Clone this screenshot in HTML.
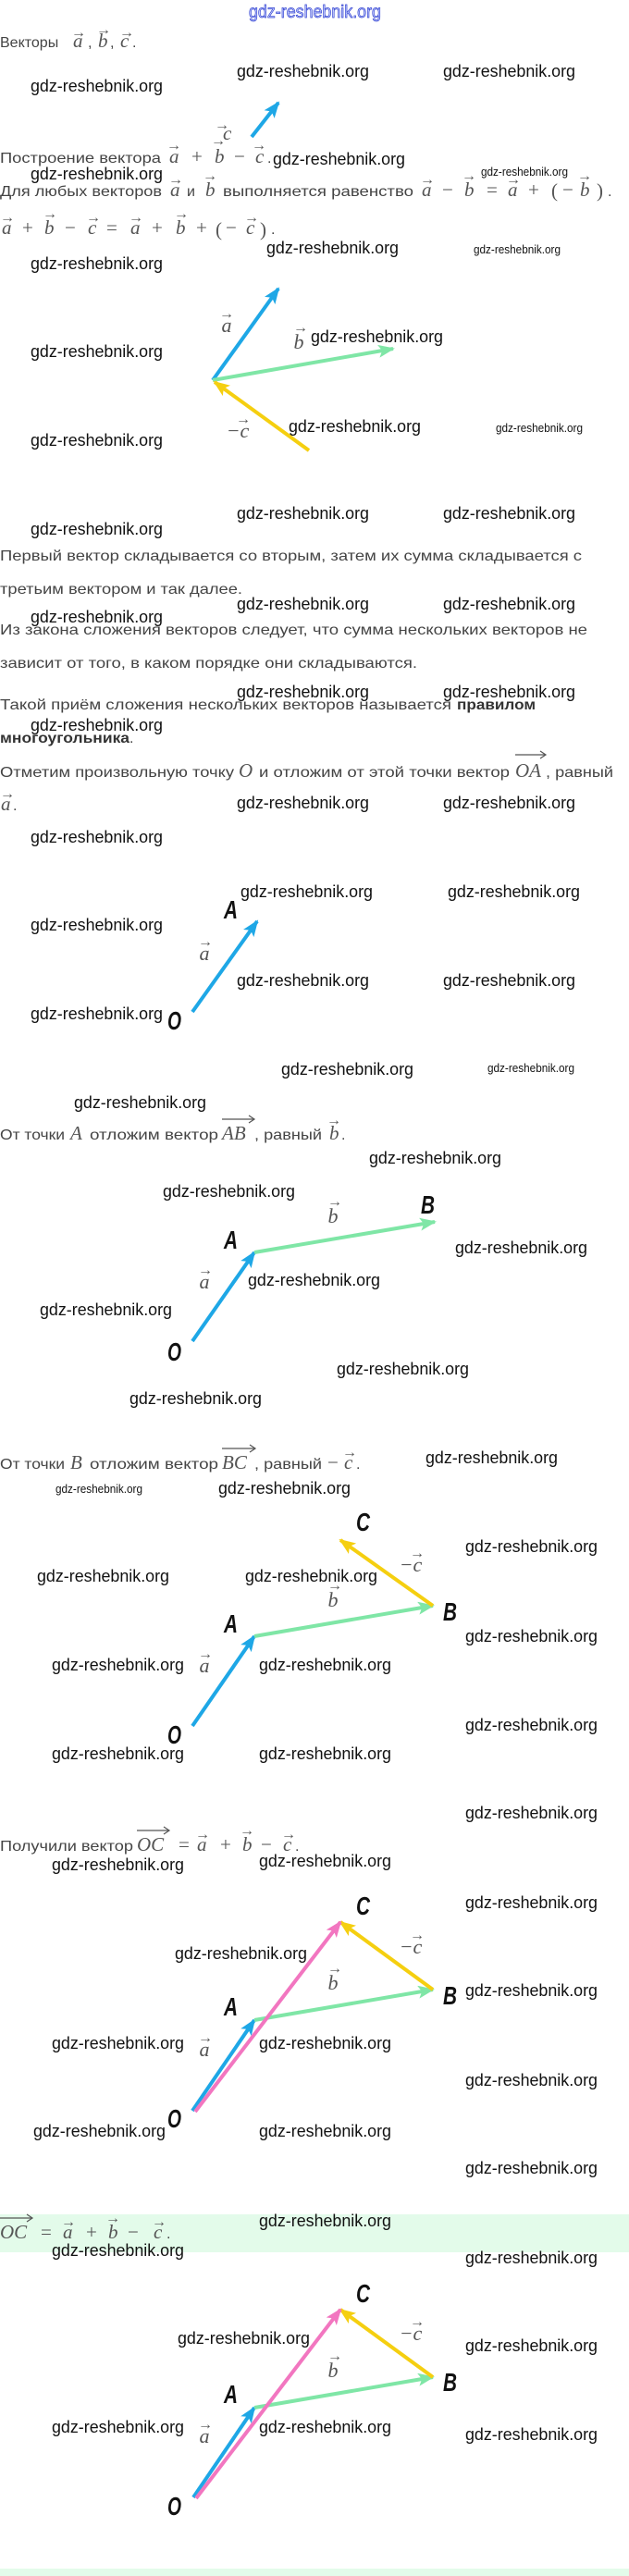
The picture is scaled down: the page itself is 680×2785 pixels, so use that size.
<!DOCTYPE html>
<html><head><meta charset="utf-8"><style>
html,body{margin:0;padding:0;background:#fff}
svg{display:block}
.w{font-family:"Liberation Sans",sans-serif;font-size:18px;fill:#111}
.ws{font-family:"Liberation Sans",sans-serif;font-size:13px;fill:#111}
.t{font-family:"Liberation Sans",sans-serif;font-size:16px;fill:#444}
.tb{font-family:"Liberation Sans",sans-serif;font-size:16px;fill:#333;font-weight:bold}
.m{font-family:"Liberation Serif",serif;font-style:italic;font-size:21px;fill:#555}
.mo{font-family:"Liberation Serif",serif;font-size:21px;fill:#555}
.ar{font-family:"Liberation Serif",serif;font-size:16px;fill:#555}
.v{font-family:"Liberation Serif",serif;font-style:italic;font-size:22px;fill:#555}
.P{font-family:"Liberation Sans",sans-serif;font-style:italic;font-weight:bold;font-size:28px;fill:#111}
</style></head><body>
<svg width="680" height="2785" viewBox="0 0 680 2785" xmlns="http://www.w3.org/2000/svg">
<defs>
<marker id="hb" markerWidth="18" markerHeight="14" refX="16" refY="7" orient="auto" markerUnits="userSpaceOnUse"><path d="M0,0 L18,7 L0,14 L4,7 z" fill="#1ea7e6"/></marker>
<marker id="hg" markerWidth="18" markerHeight="14" refX="16" refY="7" orient="auto" markerUnits="userSpaceOnUse"><path d="M0,0 L18,7 L0,14 L4,7 z" fill="#7fe6a6"/></marker>
<marker id="hy" markerWidth="18" markerHeight="14" refX="16" refY="7" orient="auto" markerUnits="userSpaceOnUse"><path d="M0,0 L18,7 L0,14 L4,7 z" fill="#f5cf10"/></marker>
<marker id="hp" markerWidth="18" markerHeight="14" refX="16" refY="7" orient="auto" markerUnits="userSpaceOnUse"><path d="M0,0 L18,7 L0,14 L4,7 z" fill="#f276c0"/></marker>
</defs>

<!-- green bands -->
<rect x="0" y="2394" width="680" height="41" fill="#e3fbea"/>
<rect x="0" y="2777" width="680" height="8" fill="#e3fbea"/>

<!-- header -->
<text x="269" y="19" font-family="Liberation Sans,sans-serif" font-size="19" fill="#c9d2ff" stroke="#3040d0" stroke-width="0.7" textLength="143" lengthAdjust="spacingAndGlyphs">gdz-reshebnik.org</text>

<!-- text line 1 -->
<text class="t" x="0" y="51">Векторы</text>
<text class="m" x="79" y="51">a</text><text class="t" x="95" y="51">,</text>
<text class="m" x="106" y="51">b</text><text class="t" x="119" y="51">,</text>
<text class="m" x="130" y="51">c</text><text class="t" x="143" y="51">.</text>
<text class="ar" x="77" y="40">→</text><text class="ar" x="104" y="37">→</text><text class="ar" x="129" y="40">→</text>

<!-- small blue arrow -->
<line x1="272" y1="148" x2="301" y2="111" stroke="#1ea7e6" stroke-width="4" marker-end="url(#hb)"/>

<text class="t" x="0" y="176" textLength="174" lengthAdjust="spacingAndGlyphs">Построение вектора</text>
<text class="m" x="183" y="176">a</text><text class="mo" x="207" y="176">+</text>
<text class="m" x="232" y="176">b</text><text class="mo" x="253" y="176">−</text>
<text class="m" x="276" y="176">c</text><text class="t" x="289" y="176">.</text>
<text class="m" x="241" y="151">c</text>
<text class="ar" x="180" y="162">→</text><text class="ar" x="228" y="157">→</text><text class="ar" x="232" y="140">→</text><text class="ar" x="272" y="162">→</text>

<text class="t" x="0" y="212" textLength="175" lengthAdjust="spacingAndGlyphs">Для любых векторов</text>
<text class="m" x="184" y="212">a</text><text class="t" x="202" y="212">и</text>
<text class="m" x="222" y="212">b</text>
<text class="t" x="241" y="212" textLength="206" lengthAdjust="spacingAndGlyphs">выполняется равенство</text>
<text class="m" x="456" y="212">a</text><text class="mo" x="478" y="212">−</text>
<text class="m" x="502" y="212">b</text><text class="mo" x="526" y="212">=</text>
<text class="m" x="549" y="212">a</text><text class="mo" x="571" y="212">+</text>
<text class="mo" x="596" y="213" font-size="26">(</text><text class="mo" x="608" y="212">−</text>
<text class="m" x="627" y="212">b</text><text class="mo" x="645" y="213" font-size="26">)</text><text class="t" x="657" y="212">.</text>
<text class="ar" x="182" y="199">→</text><text class="ar" x="219" y="195">→</text><text class="ar" x="454" y="199">→</text><text class="ar" x="499" y="195">→</text><text class="ar" x="547" y="199">→</text><text class="ar" x="624" y="195">→</text>

<text class="m" x="2" y="253">a</text><text class="mo" x="24" y="253">+</text>
<text class="m" x="48" y="253">b</text><text class="mo" x="70" y="253">−</text>
<text class="m" x="95" y="253">c</text><text class="mo" x="115" y="253">=</text>
<text class="m" x="141" y="253">a</text><text class="mo" x="164" y="253">+</text>
<text class="m" x="190" y="253">b</text><text class="mo" x="212" y="253">+</text>
<text class="mo" x="233" y="255" font-size="28">(</text><text class="mo" x="244" y="253">−</text>
<text class="m" x="266" y="253">c</text><text class="mo" x="281" y="255" font-size="28">)</text><text class="t" x="293" y="253">.</text>
<text class="ar" x="0" y="240">→</text><text class="ar" x="46" y="236">→</text><text class="ar" x="93" y="240">→</text><text class="ar" x="139" y="240">→</text><text class="ar" x="188" y="236">→</text><text class="ar" x="264" y="240">→</text>

<!-- diagram 1 -->
<line x1="230" y1="411" x2="301" y2="312" stroke="#1ea7e6" stroke-width="4" marker-end="url(#hb)"/>
<line x1="230" y1="411" x2="425" y2="377" stroke="#7fe6a6" stroke-width="4" marker-end="url(#hg)"/>
<line x1="334" y1="487" x2="232" y2="413" stroke="#f5cf10" stroke-width="4" marker-end="url(#hy)"/>
<text class="v" x="245" y="359" text-anchor="middle">a</text><text class="ar" x="245" y="344" text-anchor="middle">→</text>
<text class="v" x="323" y="377" text-anchor="middle">b</text><text class="ar" x="325" y="359" text-anchor="middle">→</text>
<text class="v" x="257" y="473" text-anchor="middle">−c</text><text class="ar" x="263" y="458" text-anchor="middle">→</text>

<!-- paragraphs -->
<text class="t" x="0" y="606" textLength="629" lengthAdjust="spacingAndGlyphs">Первый вектор складывается со вторым, затем их сумма складывается с</text>
<text class="t" x="0" y="642" textLength="262" lengthAdjust="spacingAndGlyphs">третьим вектором и так далее.</text>
<text class="t" x="0" y="686" textLength="635" lengthAdjust="spacingAndGlyphs">Из закона сложения векторов следует, что сумма нескольких векторов не</text>
<text class="t" x="0" y="722" textLength="451" lengthAdjust="spacingAndGlyphs">зависит от того, в каком порядке они складываются.</text>
<text class="t" x="0" y="767" textLength="488" lengthAdjust="spacingAndGlyphs">Такой приём сложения нескольких векторов называется</text>
<text class="tb" x="494" y="767" textLength="85" lengthAdjust="spacingAndGlyphs">правилом</text>
<text class="tb" x="0" y="803" textLength="140" lengthAdjust="spacingAndGlyphs">многоугольника</text><text class="t" x="140" y="803">.</text>

<text class="t" x="0" y="840" textLength="253" lengthAdjust="spacingAndGlyphs">Отметим произвольную точку</text>
<text class="m" x="258" y="840">O</text>
<text class="t" x="280" y="840" textLength="271" lengthAdjust="spacingAndGlyphs">и отложим от этой точки вектор</text>
<text class="m" x="557" y="840">OA</text><text class="t" x="590" y="840" textLength="73" lengthAdjust="spacingAndGlyphs">, равный</text>
<path d="M557 816 H590 M584 812 L590 816 L584 820" stroke="#555" stroke-width="1.2" fill="none"/>
<text class="m" x="1" y="876">a</text><text class="t" x="14" y="876">.</text>
<text class="ar" x="0" y="863">→</text>

<!-- diagram 2 -->
<line x1="208" y1="1094" x2="278" y2="996" stroke="#1ea7e6" stroke-width="4" marker-end="url(#hb)"/>
<text class="P" x="242" y="993" textLength="15" lengthAdjust="spacingAndGlyphs">A</text>
<text class="P" x="181" y="1113" textLength="15" lengthAdjust="spacingAndGlyphs">O</text>
<text class="v" x="221" y="1038" text-anchor="middle">a</text><text class="ar" x="222" y="1023" text-anchor="middle">→</text>

<text class="t" x="0" y="1232" textLength="70" lengthAdjust="spacingAndGlyphs">От точки</text>
<text class="m" x="76" y="1232">A</text>
<text class="t" x="97" y="1232" textLength="139" lengthAdjust="spacingAndGlyphs">отложим вектор</text>
<text class="m" x="240" y="1232">AB</text><text class="t" x="275" y="1232" textLength="73" lengthAdjust="spacingAndGlyphs">, равный</text>
<text class="m" x="356" y="1232">b</text><text class="t" x="369" y="1232">.</text>
<path d="M240 1210 H275 M269 1206 L275 1210 L269 1214" stroke="#555" stroke-width="1.2" fill="none"/>
<text class="ar" x="353" y="1216">→</text>

<!-- diagram 3 -->
<line x1="208" y1="1450" x2="275" y2="1354" stroke="#1ea7e6" stroke-width="4" marker-end="url(#hb)"/>
<line x1="275" y1="1354" x2="470" y2="1321" stroke="#7fe6a6" stroke-width="4" marker-end="url(#hg)"/>
<text class="P" x="455" y="1312" textLength="15" lengthAdjust="spacingAndGlyphs">B</text>
<text class="P" x="242" y="1350" textLength="15" lengthAdjust="spacingAndGlyphs">A</text>
<text class="P" x="181" y="1471" textLength="15" lengthAdjust="spacingAndGlyphs">O</text>
<text class="v" x="360" y="1322" text-anchor="middle">b</text><text class="ar" x="362" y="1304" text-anchor="middle">→</text>
<text class="v" x="221" y="1393" text-anchor="middle">a</text><text class="ar" x="222" y="1378" text-anchor="middle">→</text>

<text class="t" x="0" y="1588" textLength="70" lengthAdjust="spacingAndGlyphs">От точки</text>
<text class="m" x="76" y="1588">B</text>
<text class="t" x="97" y="1588" textLength="139" lengthAdjust="spacingAndGlyphs">отложим вектор</text>
<text class="m" x="240" y="1588">BC</text><text class="t" x="275" y="1588" textLength="73" lengthAdjust="spacingAndGlyphs">, равный</text>
<text class="mo" x="354" y="1588">−</text><text class="m" x="372" y="1588">c</text><text class="t" x="385" y="1588">.</text>
<path d="M240 1566 H276 M270 1562 L276 1566 L270 1570" stroke="#555" stroke-width="1.2" fill="none"/>
<text class="ar" x="370" y="1575">→</text>

<!-- diagram 4 -->
<line x1="208" y1="1866" x2="275" y2="1769" stroke="#1ea7e6" stroke-width="4" marker-end="url(#hb)"/>
<line x1="275" y1="1769" x2="468" y2="1736" stroke="#7fe6a6" stroke-width="4" marker-end="url(#hg)"/>
<line x1="468" y1="1736" x2="368" y2="1665" stroke="#f5cf10" stroke-width="4" marker-end="url(#hy)"/>
<text class="P" x="385" y="1655" textLength="15" lengthAdjust="spacingAndGlyphs">C</text>
<text class="P" x="479" y="1752" textLength="15" lengthAdjust="spacingAndGlyphs">B</text>
<text class="P" x="242" y="1765" textLength="15" lengthAdjust="spacingAndGlyphs">A</text>
<text class="P" x="181" y="1885" textLength="15" lengthAdjust="spacingAndGlyphs">O</text>
<text class="v" x="444" y="1699" text-anchor="middle">−c</text><text class="ar" x="451" y="1684" text-anchor="middle">→</text>
<text class="v" x="360" y="1737" text-anchor="middle">b</text><text class="ar" x="362" y="1719" text-anchor="middle">→</text>
<text class="v" x="221" y="1808" text-anchor="middle">a</text><text class="ar" x="222" y="1793" text-anchor="middle">→</text>

<text class="t" x="0" y="2001" textLength="144" lengthAdjust="spacingAndGlyphs">Получили вектор</text>
<text class="m" x="148" y="2001">OC</text><text class="mo" x="193" y="2001">=</text>
<text class="m" x="213" y="2001">a</text><text class="mo" x="238" y="2001">+</text>
<text class="m" x="262" y="2001">b</text><text class="mo" x="282" y="2001">−</text>
<text class="m" x="306" y="2001">c</text><text class="t" x="319" y="2001">.</text>
<path d="M148 1979 H183 M177 1975 L183 1979 L177 1983" stroke="#555" stroke-width="1.2" fill="none"/>
<text class="ar" x="211" y="1988">→</text><text class="ar" x="259" y="1984">→</text><text class="ar" x="304" y="1988">→</text>

<!-- diagram 5 -->
<line x1="208" y1="2282" x2="275" y2="2184" stroke="#1ea7e6" stroke-width="4" marker-end="url(#hb)"/>
<line x1="275" y1="2184" x2="468" y2="2151" stroke="#7fe6a6" stroke-width="4" marker-end="url(#hg)"/>
<line x1="468" y1="2151" x2="368" y2="2078" stroke="#f5cf10" stroke-width="4" marker-end="url(#hy)"/>
<line x1="211" y1="2283" x2="368" y2="2078" stroke="#f276c0" stroke-width="4" marker-end="url(#hp)"/>
<text class="P" x="385" y="2070" textLength="15" lengthAdjust="spacingAndGlyphs">C</text>
<text class="P" x="479" y="2167" textLength="15" lengthAdjust="spacingAndGlyphs">B</text>
<text class="P" x="242" y="2179" textLength="15" lengthAdjust="spacingAndGlyphs">A</text>
<text class="P" x="181" y="2300" textLength="15" lengthAdjust="spacingAndGlyphs">O</text>
<text class="v" x="444" y="2112" text-anchor="middle">−c</text><text class="ar" x="451" y="2097" text-anchor="middle">→</text>
<text class="v" x="360" y="2151" text-anchor="middle">b</text><text class="ar" x="362" y="2133" text-anchor="middle">→</text>
<text class="v" x="221" y="2223" text-anchor="middle">a</text><text class="ar" x="222" y="2208" text-anchor="middle">→</text>

<!-- green formula -->
<text class="m" x="0" y="2420">OC</text><text class="mo" x="44" y="2420">=</text>
<text class="m" x="68" y="2420">a</text><text class="mo" x="93" y="2420">+</text>
<text class="m" x="117" y="2420">b</text><text class="mo" x="138" y="2420">−</text>
<text class="m" x="166" y="2420">c</text><text class="t" x="180" y="2420">.</text>
<path d="M0 2398 H35 M29 2394 L35 2398 L29 2402" stroke="#555" stroke-width="1.2" fill="none"/>
<text class="ar" x="66" y="2407">→</text><text class="ar" x="114" y="2403">→</text><text class="ar" x="164" y="2407">→</text>

<!-- diagram 6 -->
<line x1="209" y1="2700" x2="275" y2="2603" stroke="#1ea7e6" stroke-width="4" marker-end="url(#hb)"/>
<line x1="275" y1="2603" x2="468" y2="2570" stroke="#7fe6a6" stroke-width="4" marker-end="url(#hg)"/>
<line x1="468" y1="2570" x2="368" y2="2497" stroke="#f5cf10" stroke-width="4" marker-end="url(#hy)"/>
<line x1="212" y1="2701" x2="368" y2="2497" stroke="#f276c0" stroke-width="4" marker-end="url(#hp)"/>
<text class="P" x="385" y="2489" textLength="15" lengthAdjust="spacingAndGlyphs">C</text>
<text class="P" x="479" y="2585" textLength="15" lengthAdjust="spacingAndGlyphs">B</text>
<text class="P" x="242" y="2598" textLength="15" lengthAdjust="spacingAndGlyphs">A</text>
<text class="P" x="181" y="2719" textLength="15" lengthAdjust="spacingAndGlyphs">O</text>
<text class="v" x="444" y="2530" text-anchor="middle">−c</text><text class="ar" x="451" y="2515" text-anchor="middle">→</text>
<text class="v" x="360" y="2570" text-anchor="middle">b</text><text class="ar" x="362" y="2552" text-anchor="middle">→</text>
<text class="v" x="221" y="2641" text-anchor="middle">a</text><text class="ar" x="222" y="2626" text-anchor="middle">→</text>

<!-- watermarks -->
<g class="w">
<text class="w" x="256" y="83" textLength="143" lengthAdjust="spacingAndGlyphs">gdz-reshebnik.org</text>
<text class="w" x="479" y="83" textLength="143" lengthAdjust="spacingAndGlyphs">gdz-reshebnik.org</text>
<text class="w" x="33" y="99" textLength="143" lengthAdjust="spacingAndGlyphs">gdz-reshebnik.org</text>
<text class="w" x="295" y="178" textLength="143" lengthAdjust="spacingAndGlyphs">gdz-reshebnik.org</text>
<text class="w" x="33" y="194" textLength="143" lengthAdjust="spacingAndGlyphs">gdz-reshebnik.org</text>
<text class="w" x="288" y="274" textLength="143" lengthAdjust="spacingAndGlyphs">gdz-reshebnik.org</text>
<text class="w" x="33" y="291" textLength="143" lengthAdjust="spacingAndGlyphs">gdz-reshebnik.org</text>
<text class="w" x="336" y="370" textLength="143" lengthAdjust="spacingAndGlyphs">gdz-reshebnik.org</text>
<text class="w" x="33" y="386" textLength="143" lengthAdjust="spacingAndGlyphs">gdz-reshebnik.org</text>
<text class="w" x="312" y="467" textLength="143" lengthAdjust="spacingAndGlyphs">gdz-reshebnik.org</text>
<text class="w" x="33" y="482" textLength="143" lengthAdjust="spacingAndGlyphs">gdz-reshebnik.org</text>
<text class="w" x="256" y="561" textLength="143" lengthAdjust="spacingAndGlyphs">gdz-reshebnik.org</text>
<text class="w" x="479" y="561" textLength="143" lengthAdjust="spacingAndGlyphs">gdz-reshebnik.org</text>
<text class="w" x="33" y="578" textLength="143" lengthAdjust="spacingAndGlyphs">gdz-reshebnik.org</text>
<text class="w" x="256" y="659" textLength="143" lengthAdjust="spacingAndGlyphs">gdz-reshebnik.org</text>
<text class="w" x="479" y="659" textLength="143" lengthAdjust="spacingAndGlyphs">gdz-reshebnik.org</text>
<text class="w" x="33" y="673" textLength="143" lengthAdjust="spacingAndGlyphs">gdz-reshebnik.org</text>
<text class="w" x="256" y="754" textLength="143" lengthAdjust="spacingAndGlyphs">gdz-reshebnik.org</text>
<text class="w" x="479" y="754" textLength="143" lengthAdjust="spacingAndGlyphs">gdz-reshebnik.org</text>
<text class="w" x="33" y="790" textLength="143" lengthAdjust="spacingAndGlyphs">gdz-reshebnik.org</text>
<text class="w" x="256" y="874" textLength="143" lengthAdjust="spacingAndGlyphs">gdz-reshebnik.org</text>
<text class="w" x="479" y="874" textLength="143" lengthAdjust="spacingAndGlyphs">gdz-reshebnik.org</text>
<text class="w" x="33" y="911" textLength="143" lengthAdjust="spacingAndGlyphs">gdz-reshebnik.org</text>
<text class="w" x="260" y="970" textLength="143" lengthAdjust="spacingAndGlyphs">gdz-reshebnik.org</text>
<text class="w" x="484" y="970" textLength="143" lengthAdjust="spacingAndGlyphs">gdz-reshebnik.org</text>
<text class="w" x="33" y="1006" textLength="143" lengthAdjust="spacingAndGlyphs">gdz-reshebnik.org</text>
<text class="w" x="256" y="1066" textLength="143" lengthAdjust="spacingAndGlyphs">gdz-reshebnik.org</text>
<text class="w" x="479" y="1066" textLength="143" lengthAdjust="spacingAndGlyphs">gdz-reshebnik.org</text>
<text class="w" x="33" y="1102" textLength="143" lengthAdjust="spacingAndGlyphs">gdz-reshebnik.org</text>
<text class="w" x="304" y="1162" textLength="143" lengthAdjust="spacingAndGlyphs">gdz-reshebnik.org</text>
<text class="w" x="80" y="1198" textLength="143" lengthAdjust="spacingAndGlyphs">gdz-reshebnik.org</text>
<text class="w" x="399" y="1258" textLength="143" lengthAdjust="spacingAndGlyphs">gdz-reshebnik.org</text>
<text class="w" x="176" y="1294" textLength="143" lengthAdjust="spacingAndGlyphs">gdz-reshebnik.org</text>
<text class="w" x="492" y="1355" textLength="143" lengthAdjust="spacingAndGlyphs">gdz-reshebnik.org</text>
<text class="w" x="268" y="1390" textLength="143" lengthAdjust="spacingAndGlyphs">gdz-reshebnik.org</text>
<text class="w" x="43" y="1422" textLength="143" lengthAdjust="spacingAndGlyphs">gdz-reshebnik.org</text>
<text class="w" x="364" y="1486" textLength="143" lengthAdjust="spacingAndGlyphs">gdz-reshebnik.org</text>
<text class="w" x="140" y="1518" textLength="143" lengthAdjust="spacingAndGlyphs">gdz-reshebnik.org</text>
<text class="w" x="460" y="1582" textLength="143" lengthAdjust="spacingAndGlyphs">gdz-reshebnik.org</text>
<text class="w" x="236" y="1615" textLength="143" lengthAdjust="spacingAndGlyphs">gdz-reshebnik.org</text>
<text class="w" x="503" y="1678" textLength="143" lengthAdjust="spacingAndGlyphs">gdz-reshebnik.org</text>
<text class="w" x="40" y="1710" textLength="143" lengthAdjust="spacingAndGlyphs">gdz-reshebnik.org</text>
<text class="w" x="265" y="1710" textLength="143" lengthAdjust="spacingAndGlyphs">gdz-reshebnik.org</text>
<text class="w" x="503" y="1775" textLength="143" lengthAdjust="spacingAndGlyphs">gdz-reshebnik.org</text>
<text class="w" x="56" y="1806" textLength="143" lengthAdjust="spacingAndGlyphs">gdz-reshebnik.org</text>
<text class="w" x="280" y="1806" textLength="143" lengthAdjust="spacingAndGlyphs">gdz-reshebnik.org</text>
<text class="w" x="503" y="1871" textLength="143" lengthAdjust="spacingAndGlyphs">gdz-reshebnik.org</text>
<text class="w" x="56" y="1902" textLength="143" lengthAdjust="spacingAndGlyphs">gdz-reshebnik.org</text>
<text class="w" x="280" y="1902" textLength="143" lengthAdjust="spacingAndGlyphs">gdz-reshebnik.org</text>
<text class="w" x="503" y="1966" textLength="143" lengthAdjust="spacingAndGlyphs">gdz-reshebnik.org</text>
<text class="w" x="56" y="2022" textLength="143" lengthAdjust="spacingAndGlyphs">gdz-reshebnik.org</text>
<text class="w" x="280" y="2018" textLength="143" lengthAdjust="spacingAndGlyphs">gdz-reshebnik.org</text>
<text class="w" x="503" y="2063" textLength="143" lengthAdjust="spacingAndGlyphs">gdz-reshebnik.org</text>
<text class="w" x="189" y="2118" textLength="143" lengthAdjust="spacingAndGlyphs">gdz-reshebnik.org</text>
<text class="w" x="503" y="2158" textLength="143" lengthAdjust="spacingAndGlyphs">gdz-reshebnik.org</text>
<text class="w" x="56" y="2215" textLength="143" lengthAdjust="spacingAndGlyphs">gdz-reshebnik.org</text>
<text class="w" x="280" y="2215" textLength="143" lengthAdjust="spacingAndGlyphs">gdz-reshebnik.org</text>
<text class="w" x="503" y="2255" textLength="143" lengthAdjust="spacingAndGlyphs">gdz-reshebnik.org</text>
<text class="w" x="36" y="2310" textLength="143" lengthAdjust="spacingAndGlyphs">gdz-reshebnik.org</text>
<text class="w" x="280" y="2310" textLength="143" lengthAdjust="spacingAndGlyphs">gdz-reshebnik.org</text>
<text class="w" x="503" y="2350" textLength="143" lengthAdjust="spacingAndGlyphs">gdz-reshebnik.org</text>
<text class="w" x="280" y="2407" textLength="143" lengthAdjust="spacingAndGlyphs">gdz-reshebnik.org</text>
<text class="w" x="56" y="2439" textLength="143" lengthAdjust="spacingAndGlyphs">gdz-reshebnik.org</text>
<text class="w" x="503" y="2447" textLength="143" lengthAdjust="spacingAndGlyphs">gdz-reshebnik.org</text>
<text class="w" x="192" y="2534" textLength="143" lengthAdjust="spacingAndGlyphs">gdz-reshebnik.org</text>
<text class="w" x="503" y="2542" textLength="143" lengthAdjust="spacingAndGlyphs">gdz-reshebnik.org</text>
<text class="w" x="56" y="2630" textLength="143" lengthAdjust="spacingAndGlyphs">gdz-reshebnik.org</text>
<text class="w" x="280" y="2630" textLength="143" lengthAdjust="spacingAndGlyphs">gdz-reshebnik.org</text>
<text class="w" x="503" y="2638" textLength="143" lengthAdjust="spacingAndGlyphs">gdz-reshebnik.org</text>
</g>
<text class="ws" x="520" y="190" textLength="94" lengthAdjust="spacingAndGlyphs">gdz-reshebnik.org</text>
<text class="ws" x="512" y="274" textLength="94" lengthAdjust="spacingAndGlyphs">gdz-reshebnik.org</text>
<text class="ws" x="536" y="467" textLength="94" lengthAdjust="spacingAndGlyphs">gdz-reshebnik.org</text>
<text class="ws" x="527" y="1159" textLength="94" lengthAdjust="spacingAndGlyphs">gdz-reshebnik.org</text>
<text class="ws" x="60" y="1614" textLength="94" lengthAdjust="spacingAndGlyphs">gdz-reshebnik.org</text>
</svg>
</body></html>
